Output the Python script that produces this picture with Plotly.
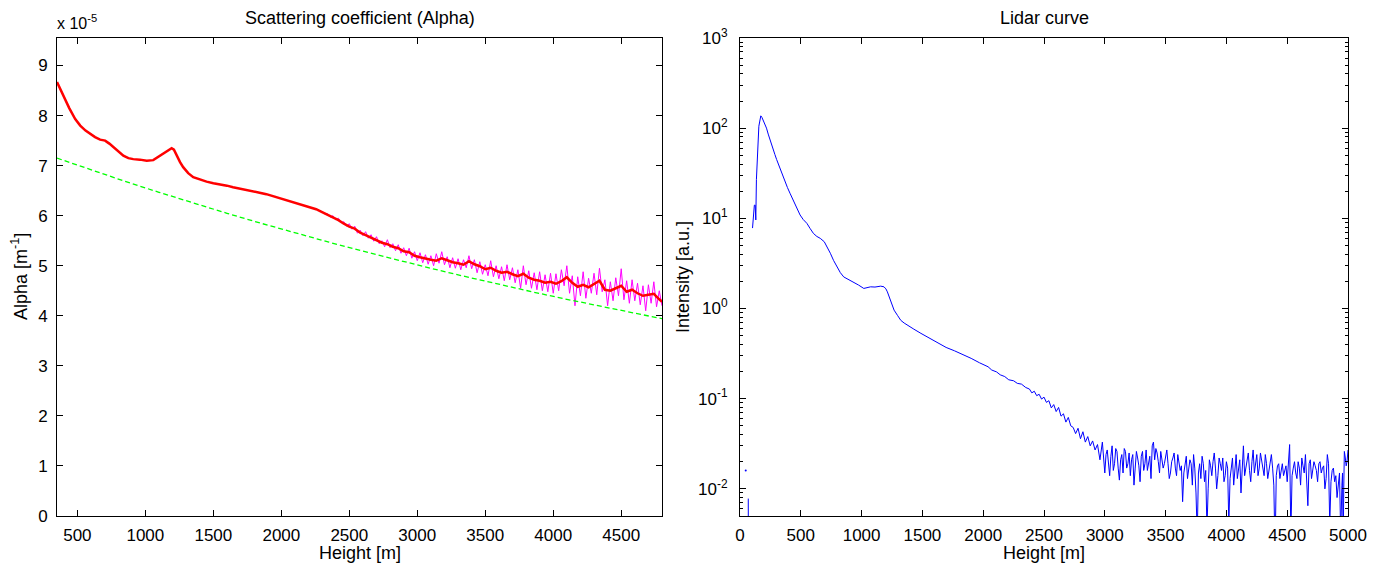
import plotly.graph_objects as go

# ---------------- Left panel: scattering coefficient (values in units of 1e-5 m^-1)
red_h = [350, 370, 398, 440, 484, 521, 560, 594, 630, 667, 704, 735, 765, 800, 838, 875, 911, 960,
         1010, 1058, 1095, 1131, 1165, 1193, 1210, 1230, 1255, 1278, 1315, 1352, 1400, 1450, 1500,
         1547, 1600, 1645, 1720, 1791, 1840, 1890, 1950, 2011, 2070, 2134, 2195, 2256,
         2300, 2340, 2380, 2420, 2460, 2500, 2540, 2580, 2620, 2660, 2700, 2740, 2780, 2820, 2860,
         2900, 2940, 2980, 3020, 3060, 3100, 3140, 3180, 3220, 3260, 3300, 3340, 3380, 3420, 3460,
         3500, 3540, 3580, 3620, 3660, 3700, 3740, 3780, 3820, 3860, 3900, 3940, 3980, 4020, 4060,
         4100, 4140, 4180, 4220, 4260, 4300, 4340, 4380, 4420, 4460, 4500, 4540, 4580, 4620, 4660,
         4700, 4740, 4780, 4800]
red_alpha = [8.67, 8.55, 8.40, 8.15, 7.93, 7.80, 7.70, 7.63, 7.57, 7.52, 7.50, 7.44, 7.37, 7.28, 7.20,
             7.15, 7.13, 7.12, 7.10, 7.11, 7.18, 7.25, 7.30, 7.35, 7.32, 7.20, 7.07, 6.97, 6.85, 6.77,
             6.72, 6.68, 6.65, 6.63, 6.60, 6.57, 6.53, 6.50, 6.46, 6.43, 6.38, 6.33, 6.28, 6.23, 6.18,
             6.13, 6.07, 6.02, 5.97, 5.91, 5.84, 5.78, 5.74, 5.66, 5.61, 5.56, 5.52, 5.46, 5.43, 5.38,
             5.35, 5.29, 5.27, 5.20, 5.17, 5.14, 5.12, 5.10, 5.15, 5.11, 5.07, 5.05, 5.02, 5.09, 5.03,
             4.99, 4.93, 4.96, 4.90, 4.86, 4.88, 4.83, 4.79, 4.84, 4.76, 4.72, 4.70, 4.66, 4.68, 4.64,
             4.69, 4.77, 4.66, 4.58, 4.62, 4.57, 4.63, 4.70, 4.52, 4.50, 4.55, 4.60, 4.48, 4.52, 4.45,
             4.40, 4.42, 4.44, 4.33, 4.28]

raw_h = [2300, 2320, 2340, 2360, 2380, 2400, 2420, 2440, 2460, 2480, 2500, 2520, 2540, 2560, 2580,
         2600, 2620, 2640, 2660, 2680, 2700, 2720, 2740, 2760, 2780, 2800, 2820, 2840, 2860, 2880,
         2900, 2920, 2940, 2960, 2980, 3000, 3020, 3040, 3060, 3080, 3100, 3120, 3140, 3160, 3180,
         3200, 3220, 3240, 3260, 3280, 3300, 3320, 3340, 3360, 3380, 3400, 3420, 3440, 3460, 3480,
         3500, 3520, 3540, 3560, 3580, 3600, 3620, 3640, 3660, 3680, 3700, 3720, 3740, 3760, 3780,
         3800, 3820, 3840, 3860, 3880, 3900, 3920, 3940, 3960, 3980, 4000, 4020, 4040, 4060, 4080,
         4100, 4120, 4140, 4160, 4180, 4200, 4220, 4240, 4260, 4280, 4300, 4320, 4340, 4360, 4380,
         4400, 4420, 4440, 4460, 4480, 4500, 4520, 4540, 4560, 4580, 4600, 4620, 4640, 4660, 4680,
         4700, 4720, 4740, 4760, 4780, 4800]
raw_alpha = [6.09, 6.03, 6.04, 5.97, 6.00, 5.92, 5.95, 5.86, 5.88, 5.79, 5.84, 5.73, 5.79, 5.65, 5.71,
             5.60, 5.68, 5.55, 5.62, 5.49, 5.58, 5.44, 5.50, 5.38, 5.52, 5.36, 5.44, 5.30, 5.42, 5.25,
             5.36, 5.20, 5.35, 5.15, 5.28, 5.10, 5.26, 5.06, 5.22, 5.03, 5.20, 5.00, 5.24, 5.05, 5.28,
             5.02, 5.18, 4.96, 5.16, 4.95, 5.14, 4.92, 5.12, 4.96, 5.20, 4.94, 5.12, 4.86, 5.08, 4.83,
             5.02, 4.80, 5.10, 4.78, 5.00, 4.74, 4.98, 4.70, 5.02, 4.72, 4.96, 4.66, 4.92, 4.55, 5.00,
             4.62, 4.90, 4.55, 4.86, 4.52, 4.88, 4.50, 4.82, 4.48, 4.85, 4.45, 4.84, 4.50, 4.92, 4.60,
             5.00, 4.45, 4.80, 4.20, 4.78, 4.40, 4.88, 4.35, 4.75, 4.45, 4.85, 4.42, 4.95, 4.48, 4.72,
             4.20, 4.68, 4.30, 4.76, 4.40, 4.94, 4.32, 4.70, 4.25, 4.72, 4.30, 4.65, 4.22, 4.60, 4.10,
             4.62, 4.25, 4.68, 4.18, 4.50, 4.20]

mol_h = [350, 600, 850, 1100, 1350, 1600, 1850, 2100, 2350, 2600, 2850, 3100, 3350, 3600, 3850,
         4100, 4350, 4600, 4800]
mol_alpha = [7.15, 6.915, 6.687, 6.467, 6.254, 6.048, 5.849, 5.657, 5.471, 5.291, 5.117, 4.948,
             4.786, 4.628, 4.476, 4.329, 4.186, 4.049, 3.942]

alpha_ticks = [0, 1, 2, 3, 4, 5, 6, 7, 8, 9]
height_ticks_left = [500, 1000, 1500, 2000, 2500, 3000, 3500, 4000, 4500]

# ---------------- Right panel: lidar curve (None = non-positive / gap)
lidar_h = [68, 70, 80,
           103, 108, 118, 125, 130, 135, 144, 150, 155, 163, 171, 180, 190, 204, 218, 232, 246, 260,
           273, 287, 301, 315, 329, 350, 370, 390, 411, 432, 453, 474, 494, 520, 550, 577, 604, 632,
           660, 693, 718, 743, 770, 798, 825, 853, 890, 935, 975, 1018, 1045, 1074, 1110, 1157, 1184,
           1200, 1212, 1225, 1239, 1253, 1267, 1295, 1322, 1350, 1377, 1430, 1488, 1555, 1626, 1695,
           1763, 1830, 1901, 1970, 2010, 2040, 2070, 2110, 2140, 2177, 2210, 2250, 2280, 2315, 2350,
           2380, 2400, 2420, 2440, 2460, 2480, 2500, 2520, 2540, 2560, 2580, 2600, 2620, 2640, 2660,
           2680, 2700, 2720, 2740, 2760, 2780, 2800, 2820, 2840, 2860, 2880, 2900, 2920, 2940, 2960,
           2980, 3000, 3020, 3040, 3060, 3080, 3100, 3120, 3140, 3160, 3180, 3200, 3220, 3240, 3260,
           3280, 3300, 3320, 3340, 3360, 3380, 3400, 3420, 3440, 3460, 3480, 3500, 3520, 3540, 3560,
           3580, 3600, 3620, 3640, 3660, 3680, 3700, 3720, 3740, 3760, 3780, 3800, 3820, 3840, 3860,
           3880, 3900, 3920, 3940, 3960, 3980, 4000, 4020, 4040, 4060, 4080, 4100, 4120, 4140, 4160,
           4180, 4200, 4220, 4240, 4260, 4280, 4300, 4320, 4340, 4360, 4380, 4400, 4420, 4440, 4460,
           4480, 4500, 4520, 4530, 4550, 4570, 4590, 4610, 4630, 4650, 4670, 4690, 4710, 4730, 4750,
           4770, 4790, 4810, 4830, 4850, 4870, 4890, 4910, 4930, 4940, 4950, 4960, 4970, 4985, 5000]
lidar_int = [0.0078, 0.0004, None,
             7.8, 10.4, 14, 14, 9.6, 27, 50, 60, 105, 120, 137, 132, 124, 112, 100, 86, 74, 65,
             57, 51, 45, 40, 35, 30, 26, 22, 19, 16.5, 14.7, 12.6, 10.9, 9.7, 8.8, 7.7, 6.8, 6.3,
             6.0, 5.5, 4.8, 4.1, 3.4, 2.9, 2.5, 2.24, 2.1, 1.98, 1.82, 1.67, 1.70, 1.74, 1.73, 1.77, 1.74,
             1.65, 1.53, 1.38, 1.24, 1.08, 0.96, 0.84, 0.74, 0.69, 0.65, 0.59, 0.53, 0.47, 0.41, 0.37,
             0.34, 0.31, 0.28, 0.25, 0.237, 0.226, 0.208, 0.198, 0.184, 0.176, 0.162, 0.158, 0.148, 0.145, 0.133,
             0.128, 0.116, 0.121, 0.108, 0.112, 0.099, 0.104, 0.091, 0.095, 0.079, 0.086, 0.072, 0.080, 0.064, 0.068,
             0.055, 0.062, 0.050, 0.048, 0.041, 0.047, 0.036, 0.043, 0.033, 0.038, 0.030, 0.034, 0.027, 0.031, 0.021,
             0.033, 0.015, 0.027, 0.014, 0.030, 0.019, 0.026, 0.0125, 0.024, 0.028, 0.017, 0.025, 0.021, 0.011, 0.026,
             0.018, 0.023, 0.016, 0.027, 0.020, 0.013, 0.033, 0.028, 0.020, 0.026, 0.017, 0.024, 0.019, 0.015, 0.022,
             0.017, 0.024, 0.016, 0.0072, 0.019, 0.013, 0.021, 0.011, 0.017, 0.003, 0.019, 0.023, 0.012, 0.0035, 0.021,
             0.014, 0.025, 0.010, 0.022, 0.016, 0.012, 0.020, 0.004, 0.018, 0.011, 0.024, 0.016, 0.009, 0.030, 0.017,
             0.025, 0.012, 0.027, 0.020, 0.014, 0.025, 0.018, 0.024, 0.013, 0.021, 0.017, 0.002, 0.018, 0.013, 0.019,
             0.016, 0.012, 0.031, 0.003, 0.017, 0.015, 0.020, 0.011, 0.018, 0.024, 0.0065, 0.021, 0.016, 0.018, 0.012,
             0.020, 0.017, 0.010, 0.024, 0.004, 0.016, 0.012, 0.008, 0.015, 0.003, 0.011, 0.002, 0.026, 0.018, 0.027]

# extra noise samples between the ones above (far range)
lidar_h_extra = (list(range(3010, 4511, 20)) + list(range(4540, 4921, 20))
                 + [4945, 4955, 4965, 4978, 4992])
lidar_int_extra = [0.024, 0.018, 0.023, 0.016, 0.028, 0.017, 0.021, 0.015, 0.026, 0.019,
                   0.014, 0.024, 0.017, 0.022, 0.012, 0.026, 0.019, 0.016, 0.023, 0.030,
                   0.021, 0.025, 0.015, 0.022, 0.019, 0.027, 0.013, 0.020, 0.025, 0.014,
                   0.020, 0.018, 0.015, 0.023, 0.016, 0.019, 0.024, 0.009, 0.015, 0.013,
                   0.019, 0.016, 0.010, 0.018, 0.020, 0.017, 0.014, 0.019, 0.022, 0.014,
                   0.017, 0.013, 0.022, 0.017, 0.013, 0.021, 0.019, 0.014, 0.021, 0.016,
                   0.020, 0.015, 0.024, 0.017, 0.021, 0.014, 0.019, 0.016, 0.024, 0.011,
                   0.014, 0.019, 0.016, 0.014, 0.018, 0.021,
                   0.014, 0.020, 0.013, 0.017, 0.022, 0.015, 0.012, 0.019, 0.013, 0.020,
                   0.016, 0.019, 0.015, 0.018, 0.013, 0.019, 0.012, 0.017, 0.014, 0.011,
                   0.008, 0.015, 0.010, 0.022, 0.020]

lidar_dot_h = [47]
lidar_dot_int = [0.016]

log_major = [0.01, 0.1, 1, 10, 100, 1000]
log_major_text = ["10<sup>-2</sup>", "10<sup>-1</sup>", "10<sup>0</sup>", "10<sup>1</sup>",
                  "10<sup>2</sup>", "10<sup>3</sup>"]
log_minor = [0.005, 0.006, 0.007, 0.008, 0.009,
             0.02, 0.03, 0.04, 0.05, 0.06, 0.07, 0.08, 0.09,
             0.2, 0.3, 0.4, 0.5, 0.6, 0.7, 0.8, 0.9,
             2, 3, 4, 5, 6, 7, 8, 9,
             20, 30, 40, 50, 60, 70, 80, 90,
             200, 300, 400, 500, 600, 700, 800, 900]
height_ticks_right = [0, 500, 1000, 1500, 2000, 2500, 3000, 3500, 4000, 4500, 5000]

# merge the far-range samples in height order
_pairs = sorted(list(zip(lidar_h, lidar_int)) + list(zip(lidar_h_extra, lidar_int_extra)),
                key=lambda p: p[0])
lidar_h_all = [p[0] for p in _pairs]
lidar_int_all = [p[1] for p in _pairs]

# ---------------- Figure
# the page body has an 8px margin, so the figure is drawn 8px in from the window edge
OFF = 8
W, H = 1383 - 2 * OFF, 572 - 2 * OFF
FONT = "Liberation Sans, Arial, sans-serif"


def px_x(p):
    return (p - OFF) / W


def px_y(p):
    return 1 - (p - OFF) / H


fig = go.Figure()
fig.add_trace(go.Scatter(x=raw_h, y=raw_alpha, mode="lines", line=dict(color="#FF00FF", width=1),
                         xaxis="x", yaxis="y", showlegend=False))
fig.add_trace(go.Scatter(x=red_h, y=red_alpha, mode="lines", line=dict(color="#FF0000", width=2.5),
                         xaxis="x", yaxis="y", showlegend=False))
fig.add_trace(go.Scatter(x=mol_h, y=mol_alpha, mode="lines",
                         line=dict(color="#00FF00", width=1.3, dash="5px,3px"),
                         xaxis="x", yaxis="y", showlegend=False))
fig.add_trace(go.Scatter(x=lidar_h_all, y=lidar_int_all, mode="lines", connectgaps=False,
                         line=dict(color="#0000FF", width=1), xaxis="x2", yaxis="y2", showlegend=False))
fig.add_trace(go.Scatter(x=lidar_dot_h, y=lidar_dot_int, mode="markers",
                         marker=dict(color="#0000FF", size=2), xaxis="x2", yaxis="y2", showlegend=False))

TICK_FONT = dict(family=FONT, size=17, color="black")
axis_common = dict(showline=True, linecolor="black", linewidth=1, mirror="ticks", ticks="inside",
                   ticklen=6, tickcolor="black", tickwidth=1, showgrid=False, zeroline=False,
                   automargin=False, tickfont=TICK_FONT)

y_top, y_bot = 38, 516
fig.update_layout(
    template="none",
    width=W, height=H, paper_bgcolor="white", plot_bgcolor="white",
    margin=dict(l=0, r=0, t=0, b=0, pad=0, autoexpand=False),
    showlegend=False,
    xaxis=dict(domain=[px_x(57), px_x(662)], range=[350, 4800], tickmode="array",
               tickvals=height_ticks_left, anchor="y", ticklabelstandoff=4, **axis_common),
    yaxis=dict(domain=[px_y(y_bot), px_y(y_top)], range=[0, 9.55], tickmode="array",
               tickvals=alpha_ticks, anchor="x", ticklabelstandoff=5, **axis_common),
    xaxis2=dict(domain=[px_x(740), px_x(1348)], range=[0, 5000], tickmode="array",
                tickvals=height_ticks_right, anchor="y2", ticklabelstandoff=4, **axis_common),
    yaxis2=dict(domain=[px_y(y_bot), px_y(y_top)], type="log", range=[-2.30103, 3],
                tickmode="array", tickvals=log_major, ticktext=log_major_text, anchor="x2",
                ticklabelstandoff=8,
                minor=dict(tickmode="array", tickvals=log_minor, ticks="inside", ticklen=3,
                           tickcolor="black", showgrid=False),
                **axis_common),
)

ann_font = dict(family=FONT, size=18, color="black")
annotations = [
    dict(text="Scattering coefficient (Alpha)", x=px_x(359.5), y=px_y(18)),
    dict(text="Lidar curve", x=px_x(1044), y=px_y(18)),
    dict(text="Height [m]", x=px_x(359.5), y=px_y(553)),
    dict(text="Height [m]", x=px_x(1044), y=px_y(553)),
    dict(text="Alpha [m<sup>-1</sup>]", x=px_x(19), y=px_y(277), textangle=-90),
    dict(text="Intensity [a.u.]", x=px_x(683), y=px_y(277), textangle=-90),
]
for a in annotations:
    fig.add_annotation(xref="paper", yref="paper", showarrow=False, font=ann_font,
                       xanchor="center", yanchor="middle", **a)
fig.add_annotation(xref="paper", yref="paper", showarrow=False,
                   font=dict(family=FONT, size=16, color="black"),
                   text="x 10<sup>-5</sup>", x=px_x(55), y=px_y(22), xanchor="left", yanchor="middle")

fig.write_html("out.html")
